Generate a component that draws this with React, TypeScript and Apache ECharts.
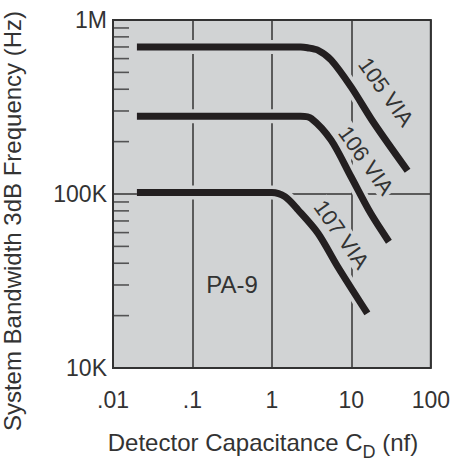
import React, { useEffect, useRef } from 'react';
import * as echarts from 'echarts';

// ---- data ----
const xTickLabels = ['.01', '.1', '1', '10', '100'];
const yTickLabels = ['10K', '100K', '1M'];
const yMinorTicks = [
  20000, 30000, 40000, 50000, 60000, 70000, 80000, 90000,
  200000, 300000, 400000, 500000, 600000, 700000, 800000, 900000,
];
const via105: [number, number][] = [
  [0.02, 700000], [2.3, 700000], [2.8, 693000], [3.8, 670000], [5.56, 589000],
  [9.87, 414000], [19.3, 255000], [51, 136000],
];
const via106: [number, number][] = [
  [0.02, 280000], [2.3, 280000], [3.13, 272000], [5.56, 204000], [9.87, 126000],
  [17.5, 77400], [29.7, 53200],
];
const via107: [number, number][] = [
  [0.02, 102000], [1.0, 102000], [1.46, 96500], [2.14, 80900], [3.8, 59500],
  [6.74, 38200], [15.9, 20600],
];
const curveNames = ['105 VIA', '106 VIA', '107 VIA'];
const plotLabel = 'PA-9';
const yTitle = 'System Bandwidth 3dB Frequency (Hz)';
const xTitleMain = 'Detector Capacitance C';
const xTitleSub = 'D';
const xTitleTail = ' (nf)';

const FONT = '"Liberation Sans", Arial, Helvetica, sans-serif';
const BG = '#d1d3d4';
const INK = '#333333';
const CURVE = '#231f20';

function measure(text: string, size: number) {
  const ctx = document.createElement('canvas').getContext('2d')!;
  ctx.font = `${size}px ${FONT}`;
  return ctx.measureText(text).width;
}

export default function App() {
  const ref = useRef<HTMLDivElement>(null);
  useEffect(() => {
    document.body.style.margin = '0';
    const chart = echarts.init(ref.current!, undefined, { renderer: 'svg' });
    const curves = [via105, via106, via107];
    const series: any[] = [];
    curves.forEach((d, i) => {
      series.push({
        type: 'line', name: curveNames[i] + ' halo', data: d, smooth: 0.3,
        showSymbol: false, silent: true, z: 2,
        lineStyle: { color: BG, width: 14, cap: 'butt', join: 'round' },
      });
    });
    curves.forEach((d, i) => {
      series.push({
        type: 'line', name: curveNames[i], data: d, smooth: 0.3,
        showSymbol: false, silent: true, z: 3,
        lineStyle: { color: CURVE, width: 7, cap: 'butt', join: 'round' },
      });
    });
    series.push({
      type: 'scatter', data: yMinorTicks.map((v) => [0.01, v]), symbol: 'rect',
      symbolSize: [16, 1.6], symbolOffset: [8, 0], clip: false, silent: true, z: 4,
      itemStyle: { color: INK },
    });

    const fs = 23;
    const tfs = 24;
    const subFs = 18;
    const w1 = measure(xTitleMain, tfs);
    const w2 = measure(xTitleSub, subFs);
    const w3 = measure(xTitleTail, tfs);
    const x0 = 263 - (w1 + w2 + w3) / 2;
    const baseY = 451;
    const mid = (size: number, base: number) => base - 0.3465 * size;
    const rot = -54.5 * Math.PI / 180;
    const labelPos = [[386, 92], [366, 160.5], [341.5, 234.5]];

    const graphic: any[] = [
      {
        type: 'text', x: 12, y: 221, rotation: Math.PI / 2, z: 100,
        style: { text: yTitle, fill: INK, fontSize: tfs, fontFamily: FONT, align: 'center', verticalAlign: 'middle' },
      },
      {
        type: 'text', x: x0, y: mid(tfs, baseY), z: 100,
        style: { text: xTitleMain, fill: INK, fontSize: tfs, fontFamily: FONT, align: 'left', verticalAlign: 'middle' },
      },
      {
        type: 'text', x: x0 + w1, y: mid(subFs, baseY + 7), z: 100,
        style: { text: xTitleSub, fill: INK, fontSize: subFs, fontFamily: FONT, align: 'left', verticalAlign: 'middle' },
      },
      {
        type: 'text', x: x0 + w1 + w2, y: mid(tfs, baseY), z: 100,
        style: { text: xTitleTail, fill: INK, fontSize: tfs, fontFamily: FONT, align: 'left', verticalAlign: 'middle' },
      },
      {
        type: 'text', x: 232, y: 284, z: 100,
        style: { text: plotLabel, fill: INK, fontSize: 24, fontFamily: FONT, align: 'center', verticalAlign: 'middle' },
      },
      ...curveNames.map((n, i) => ({
        type: 'text', x: labelPos[i][0], y: labelPos[i][1], rotation: rot, z: 100,
        style: {
          text: n, fill: INK, fontSize: 22, fontFamily: FONT, align: 'center', verticalAlign: 'middle',
          backgroundColor: BG, padding: [0, 2],
        },
      })),
    ];

    chart.setOption({
      animation: false,
      grid: {
        left: 113, right: 19, top: 20, bottom: 96, show: true,
        backgroundColor: BG, borderColor: INK, borderWidth: 2,
      },
      xAxis: {
        type: 'log', logBase: 10, min: 0.01, max: 100,
        axisLine: { show: false }, axisTick: { show: false },
        splitLine: { show: true, lineStyle: { color: INK, width: 1.5 } },
        axisLabel: {
          margin: 20, color: INK, fontSize: fs, fontFamily: FONT,
          formatter: (v: number) => xTickLabels[Math.round(Math.log10(v)) + 2],
        },
      },
      yAxis: {
        type: 'log', logBase: 10, min: 10000, max: 1000000,
        axisLine: { show: false }, axisTick: { show: false },
        splitLine: { show: true, lineStyle: { color: INK, width: 1.5 } },
        axisLabel: {
          margin: 6, color: INK, fontSize: fs, fontFamily: FONT,
          formatter: (v: number) => yTickLabels[Math.round(Math.log10(v)) - 4],
        },
      },
      series,
      graphic,
    });
    return () => chart.dispose();
  }, []);
  return <div ref={ref} style={{ width: 453, height: 464 }} />;
}
